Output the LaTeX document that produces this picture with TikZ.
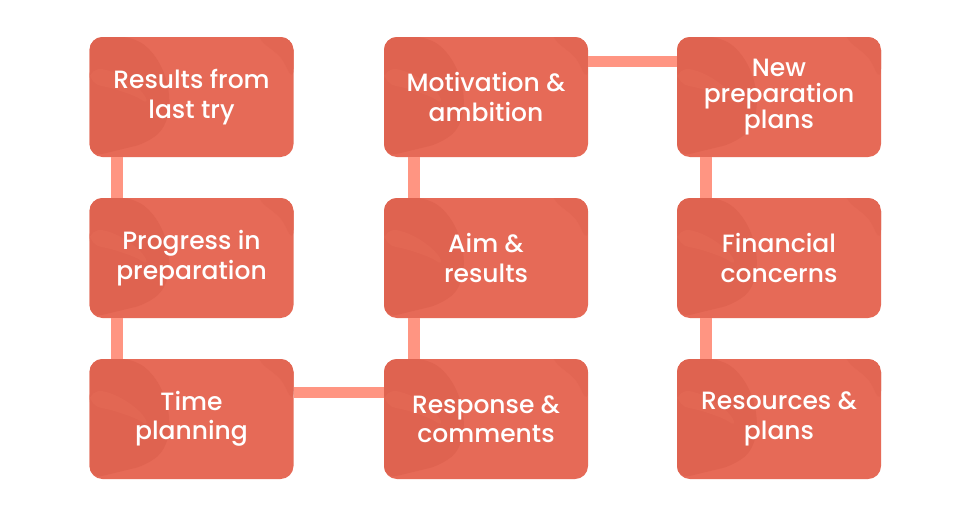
\documentclass[tikz,border=0pt]{standalone}
\usepackage{fontspec}
\setmainfont{Poppins}[UprightFont=* Medium]
\definecolor{boxfill}{HTML}{E66A57}
\definecolor{boxdark}{HTML}{DF6350}
\definecolor{linkcol}{HTML}{FF9582}
\begin{document}
\begin{tikzpicture}[x=1pt,y=-1pt,
  card/.style={rectangle, rounded corners=13pt, minimum width=204pt, minimum height=120pt,
    fill=boxfill, text=white, align=center, inner sep=0pt,
    font=\fontsize{25pt}{29.5pt}\selectfont,
    path picture={
      \fill[boxdark]
        ([shift={(0pt,0pt)}]path picture bounding box.north west)
        -- ([shift={(45pt,0pt)}]path picture bounding box.north west)
        .. controls ([shift={(82pt,-30pt)}]path picture bounding box.north west)
        and ([shift={(88pt,-80pt)}]path picture bounding box.north west)
        .. ([shift={(58pt,-106pt)}]path picture bounding box.north west)
        -- ([shift={(0pt,-120pt)}]path picture bounding box.north west) -- cycle;
      \fill[boxfill!50!boxdark]
        ([shift={(0pt,-30pt)}]path picture bounding box.north west)
        .. controls ([shift={(30pt,-35pt)}]path picture bounding box.north west)
        and ([shift={(50pt,-50pt)}]path picture bounding box.north west)
        .. ([shift={(62pt,-70pt)}]path picture bounding box.north west)
        .. controls ([shift={(45pt,-58pt)}]path picture bounding box.north west)
        and ([shift={(20pt,-50pt)}]path picture bounding box.north west)
        .. ([shift={(0pt,-48pt)}]path picture bounding box.north west) -- cycle;
      \fill[boxfill!40!boxdark]
        ([shift={(-38pt,0pt)}]path picture bounding box.north east)
        -- (path picture bounding box.north east)
        -- ([shift={(0pt,-45pt)}]path picture bounding box.north east)
        .. controls ([shift={(-12pt,-20pt)}]path picture bounding box.north east)
        .. cycle;
    }},
  link/.style={draw=linkcol, line width=11.5pt}]
\fill[white] (0,0) rectangle (970,517);
\useasboundingbox (0,0) rectangle (970,517);

\node[card] (a1) at (191.5,97) {Results from\\last try};
\node[card] (a2) at (191.5,258) {Progress in\\preparation};
\node[card] (a3) at (191.5,419) {Time\\planning};
\node[card] (b1) at (486,97) {Motivation \&\\ambition};
\node[card] (b2) at (486,258) {Aim \&\\results};
\node[card] (b3) at (486,419) {Response \&\\comments};
\node[card, font=\fontsize{25pt}{26pt}\selectfont] (c1) at (779,97) {New\\preparation\\plans};
\node[card] (c2) at (779,258) {Financial\\concerns};
\node[card] (c3) at (779,419) {Resources \&\\plans};

\draw[link] ([xshift=-74.5pt]a1.south) -- ([xshift=-74.5pt]a2.north);
\draw[link] ([xshift=-74.5pt]a2.south) -- ([xshift=-74.5pt]a3.north);
\draw[link] ([yshift=26.5pt]a3.east) -- ([yshift=26.5pt]b3.west);
\draw[link] ([xshift=-72pt]b3.north) -- ([xshift=-72pt]b2.south);
\draw[link] ([xshift=-72pt]b2.north) -- ([xshift=-72pt]b1.south);
\draw[link] ([yshift=35.5pt]b1.east) -- ([yshift=35.5pt]c1.west);
\draw[link] ([xshift=-73pt]c1.south) -- ([xshift=-73pt]c2.north);
\draw[link] ([xshift=-73pt]c2.south) -- ([xshift=-73pt]c3.north);
\end{tikzpicture}
\end{document}
